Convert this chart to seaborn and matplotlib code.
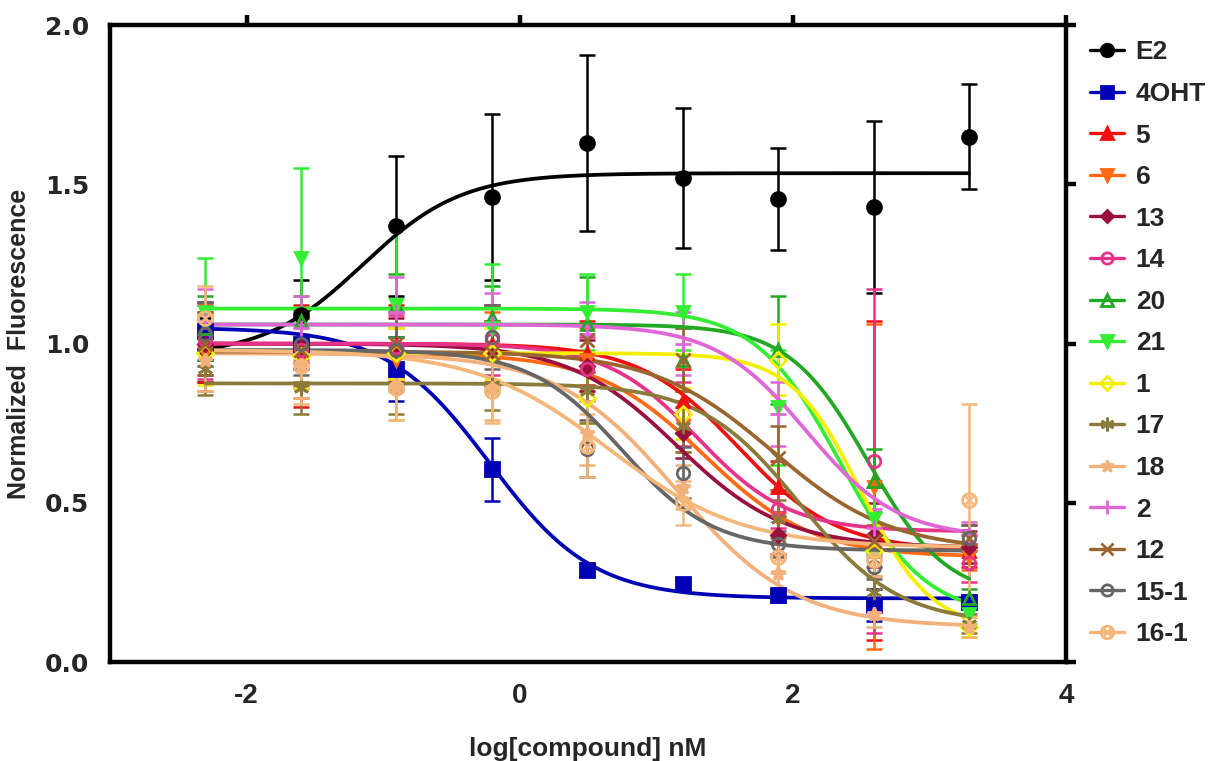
import numpy as np
import pandas as pd
import matplotlib
matplotlib.use("Agg")
import matplotlib.pyplot as plt
from matplotlib.lines import Line2D
from matplotlib.legend_handler import HandlerTuple
import seaborn as sns

# ---------------- data ----------------
LOG_CONC = [-2.301, -1.602, -0.903, -0.204, 0.495, 1.194, 1.893, 2.592, 3.291]

SERIES = ["E2", "4OHT", "5", "6", "13", "14", "20", "21", "1", "17", "18", "2", "12", "15-1", "16-1"]

y_E2 = [0.98, 1.09, 1.37, 1.46, 1.63, 1.52, 1.455, 1.43, 1.65]
e_E2 = [0.10, 0.11, 0.22, 0.26, 0.275, 0.22, 0.16, 0.27, 0.165]
y_4OHT = [1.04, 1.00, 0.92, 0.605, 0.29, 0.245, 0.21, 0.18, 0.19]
e_4OHT = [0.09, 0.08, 0.10, 0.10, 0.02, 0.02, 0.02, 0.05, 0.02]
y_5 = [1.00, 0.96, 1.00, 1.00, 0.97, 0.82, 0.55, 0.57, 0.35]
e_5 = [0.12, 0.16, 0.12, 0.12, 0.10, 0.10, 0.08, 0.50, 0.05]
y_6 = [0.97, 0.97, 0.95, 0.98, 0.95, 0.74, 0.45, 0.55, 0.33]
e_6 = [0.12, 0.14, 0.10, 0.12, 0.10, 0.08, 0.08, 0.51, 0.04]
y_13 = [1.00, 0.99, 0.98, 0.97, 0.93, 0.72, 0.40, 0.40, 0.36]
e_13 = [0.10, 0.12, 0.10, 0.10, 0.08, 0.08, 0.06, 0.10, 0.05]
y_14 = [1.01, 0.98, 0.99, 1.01, 0.92, 0.78, 0.48, 0.63, 0.31]
e_14 = [0.12, 0.12, 0.10, 0.11, 0.10, 0.10, 0.06, 0.54, 0.06]
y_20 = [1.05, 1.07, 1.12, 1.08, 1.06, 0.95, 0.98, 0.57, 0.20]
e_20 = [0.10, 0.08, 0.10, 0.10, 0.15, 0.10, 0.17, 0.10, 0.03]
y_21 = [1.10, 1.27, 1.12, 1.05, 1.10, 1.10, 0.80, 0.45, 0.15]
e_21 = [0.17, 0.28, 0.25, 0.20, 0.12, 0.12, 0.18, 0.10, 0.03]
y_1 = [0.97, 0.96, 0.97, 0.97, 0.83, 0.78, 0.95, 0.35, 0.11]
e_1 = [0.10, 0.10, 0.08, 0.08, 0.08, 0.08, 0.11, 0.08, 0.03]
y_17 = [0.92, 0.86, 0.86, 0.87, 0.85, 0.74, 0.45, 0.22, 0.12]
e_17 = [0.08, 0.08, 0.08, 0.08, 0.10, 0.08, 0.06, 0.05, 0.03]
y_18 = [0.95, 0.93, 0.86, 0.86, 0.72, 0.55, 0.28, 0.15, 0.11]
e_18 = [0.10, 0.10, 0.10, 0.10, 0.10, 0.07, 0.05, 0.04, 0.03]
y_2 = [1.07, 1.05, 1.10, 1.06, 1.03, 1.00, 0.78, 0.42, 0.40]
e_2 = [0.10, 0.10, 0.11, 0.10, 0.10, 0.10, 0.10, 0.06, 0.04]
y_12 = [1.00, 0.98, 1.00, 0.97, 1.01, 0.95, 0.64, 0.38, 0.39]
e_12 = [0.10, 0.10, 0.10, 0.10, 0.10, 0.10, 0.10, 0.05, 0.04]
y_15_1 = [1.03, 1.00, 0.98, 1.02, 0.67, 0.595, 0.37, 0.30, 0.39]
e_15_1 = [0.10, 0.10, 0.12, 0.10, 0.09, 0.08, 0.04, 0.04, 0.04]
y_16_1 = [1.08, 0.93, 0.86, 0.85, 0.68, 0.50, 0.33, 0.32, 0.51]
e_16_1 = [0.10, 0.12, 0.10, 0.10, 0.10, 0.07, 0.05, 0.05, 0.30]

# fitted 4-parameter logistic parameters: bottom, top, logEC50, hill slope
FIT_BOTTOM = [0.96, 0.20, 0.35, 0.33, 0.36, 0.41, 0.20, 0.14, 0.10, 0.12, 0.11, 0.39, 0.35, 0.35, 0.36]
FIT_TOP = [1.535, 1.05, 1.00, 0.97, 1.00, 1.00, 1.06, 1.11, 0.97, 0.875, 0.97, 1.06, 0.975, 0.98, 0.98]
FIT_LOGEC50 = [-1.15, -0.22, 1.60, 1.35, 1.15, 1.30, 2.55, 2.35, 2.50, 2.05, 1.15, 2.10, 1.85, 0.75, 0.65]
FIT_HILL = [1.2, -1.15, -1.2, -1.1, -1.1, -1.3, -1.5, -1.4, -1.7, -1.2, -1.0, -1.3, -1.0, -1.3, -0.9]

Y_VALUES = [y_E2, y_4OHT, y_5, y_6, y_13, y_14, y_20, y_21, y_1, y_17, y_18, y_2, y_12, y_15_1, y_16_1]
Y_ERRORS = [e_E2, e_4OHT, e_5, e_6, e_13, e_14, e_20, e_21, e_1, e_17, e_18, e_2, e_12, e_15_1, e_16_1]

# ---------------- styles ----------------
COLORS = ["#000000", "#0000B4", "#F01010", "#FF6A13", "#99103F", "#E6338A", "#23A823", "#33EE33",
          "#F2F000", "#8A7B3A", "#F2B07A", "#E066D6", "#9A6630", "#666666", "#F5B67A"]
MARKERS = ["o", "s", "^", "v", "D", "o", "^", "v", "D", (6, 2, 0), "*", "+", "x", "o", "o"]
FILLED = [True, True, True, True, True, False, False, True, False, True, True, True, True, False, False]
MSIZE = [10, 10, 9, 9, 7, 9, 9, 9, 8, 11, 10, 11, 10, 9, 10]
OVERLAY = [None] * 14 + ["x"]   # 16-1: circle with a cross inside

sns.set_theme(style="white")
plt.rcParams["font.family"] = ["Liberation Sans", "DejaVu Sans"]
plt.rcParams["font.weight"] = "bold"
plt.rcParams["axes.labelweight"] = "bold"
plt.rcParams["axes.unicode_minus"] = False

fig, ax = plt.subplots(figsize=(12.25, 7.61), dpi=100)
fig.subplots_adjust(left=0.0898, right=0.8702, bottom=0.130, top=0.967)

# fitted curves (long-format frame -> seaborn lineplot)
xx = np.linspace(LOG_CONC[0], LOG_CONC[-1], 300)
rows = []
for i, name in enumerate(SERIES):
    b, t, l, h = FIT_BOTTOM[i], FIT_TOP[i], FIT_LOGEC50[i], FIT_HILL[i]
    yy = b + (t - b) / (1 + 10 ** ((l - xx) * h))
    rows.append(pd.DataFrame({"x": xx, "y": yy, "compound": name}))
curves = pd.concat(rows, ignore_index=True)

# error bars
for i, name in enumerate(SERIES):
    c = COLORS[i]
    ax.errorbar(LOG_CONC, Y_VALUES[i], yerr=Y_ERRORS[i], fmt="none", ecolor=c,
                elinewidth=1.8, capsize=6, capthick=1.8, zorder=2 + i * 0.01)

sns.lineplot(data=curves, x="x", y="y", hue="compound", hue_order=SERIES,
             palette=dict(zip(SERIES, COLORS)), linewidth=2.7, legend=False,
             ax=ax, zorder=3, sort=False, estimator=None)

for i, name in enumerate(SERIES):
    c = COLORS[i]
    mfc = c if FILLED[i] else "none"
    ax.plot(LOG_CONC, Y_VALUES[i], linestyle="none", marker=MARKERS[i], ms=MSIZE[i],
            mfc=mfc, mec=c, mew=2, zorder=4)
    if OVERLAY[i]:
        ax.plot(LOG_CONC, Y_VALUES[i], linestyle="none", marker=OVERLAY[i], ms=MSIZE[i] * 0.6,
                mec=c, mew=1.8, zorder=4)

ax.set_xlim(-3, 4)
ax.set_ylim(0, 2.0)
ax.set_xticks([-2, 0, 2, 4])
ax.set_yticks([0.0, 0.5, 1.0, 1.5, 2.0])
ax.set_yticklabels(["0.0", "0.5", "1.0", "1.5", "2.0"])
ax.set_xlabel("log[compound] nM", fontsize=19, fontweight="bold", labelpad=20)
ax.set_ylabel("Normalized  Fluorescence", fontsize=18, fontweight="bold", labelpad=10)

for side in ["left", "bottom", "top", "right"]:
    ax.spines[side].set_visible(True)
    ax.spines[side].set_color("black")
    ax.spines[side].set_linewidth(3.2)

ax.tick_params(axis="both", which="major", direction="out", length=7, width=3.2,
               color="black", top=True, right=True, labelsize=20, pad=8)
for lab in ax.get_xticklabels():
    lab.set_fontweight("bold")
for lab in ax.get_yticklabels():
    lab.set_fontweight("bold")
    lab.set_family(["DejaVu Sans"])
    lab.set_fontsize(18)

handles = []
for i, name in enumerate(SERIES):
    c = COLORS[i]
    mfc = c if FILLED[i] else "none"
    h = Line2D([0], [0], color=c, lw=2.4, marker=MARKERS[i], ms=MSIZE[i] * 0.9,
               mfc=mfc, mec=c, mew=2)
    if OVERLAY[i]:
        h2 = Line2D([0], [0], color=c, lw=0, marker=OVERLAY[i], ms=MSIZE[i] * 0.55, mec=c, mew=1.8)
        h = (h, h2)
    handles.append(h)
leg = fig.legend(handles, SERIES, loc="upper left", bbox_to_anchor=(0.87, 0.978),
                 frameon=False, handlelength=1.3, handletextpad=0.45, labelspacing=0.665,
                 prop={"size": 19, "weight": "bold"},
                 handler_map={tuple: HandlerTuple(ndivide=1, pad=0)})

fig.savefig("out.png", dpi=100)
